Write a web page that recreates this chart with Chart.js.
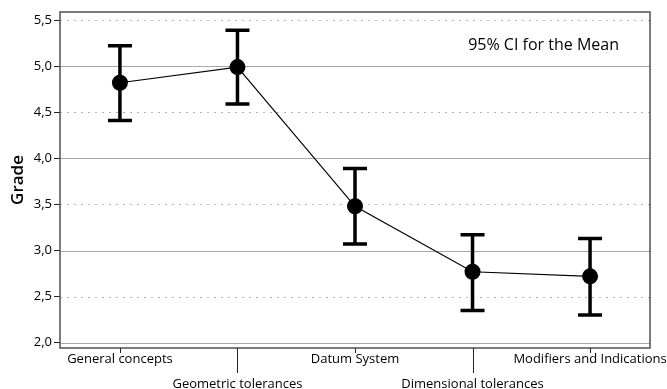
<!DOCTYPE html>
<html>
<head>
<meta charset="utf-8">
<script src="https://cdn.jsdelivr.net/npm/chart.js@4"></script>
<style>
  html, body { margin: 0; padding: 0; background: #fff; }
  #wrap { width: 667px; height: 389px; }
</style>
</head>
<body>
<div id="wrap"><canvas id="ciChart" width="667" height="389"></canvas></div>
<script>
const categories = ["General concepts", "Geometric tolerances", "Datum System", "Dimensional tolerances", "Modifiers and Indications"];
const means = [4.82, 4.99, 3.48, 2.77, 2.72];
const upper = [5.22, 5.39, 3.89, 3.17, 3.13];
const lower = [4.41, 4.59, 3.07, 2.35, 2.30];
const yTicks = [2.0, 2.5, 3.0, 3.5, 4.0, 4.5, 5.0, 5.5];

const FONT = "'Open Sans', 'Noto Sans', sans-serif";

// grid lines, frame, error bars and staggered x ticks
const ciPlugin = {
  id: "ciPlugin",
  beforeDatasetsDraw(chart) {
    const { ctx, chartArea: a, scales } = chart;
    const y = scales.y;
    ctx.save();
    yTicks.forEach(v => {
      const py = Math.round(y.getPixelForValue(v)) + 0.5;
      ctx.beginPath();
      ctx.lineWidth = 1;
      if (Number.isInteger(v)) {
        ctx.setLineDash([]);
        ctx.strokeStyle = "#a8a8a8";
      } else {
        ctx.setLineDash([2, 5]);
        ctx.strokeStyle = "#b4b4b4";
      }
      ctx.moveTo(a.left, py);
      ctx.lineTo(a.right, py);
      ctx.stroke();
    });
    ctx.setLineDash([]);

    // error bars
    const x = scales.x;
    ctx.strokeStyle = "#000";
    ctx.lineWidth = 3.5;
    means.forEach((m, i) => {
      const px = x.getPixelForValue(i);
      const pu = y.getPixelForValue(upper[i]);
      const pl = y.getPixelForValue(lower[i]);
      ctx.beginPath();
      ctx.moveTo(px, pu);
      ctx.lineTo(px, pl);
      ctx.moveTo(px - 12, pu);
      ctx.lineTo(px + 12, pu);
      ctx.moveTo(px - 12, pl);
      ctx.lineTo(px + 12, pl);
      ctx.stroke();
    });
    ctx.restore();
  },
  afterDraw(chart) {
    const { ctx, chartArea: a, scales } = chart;
    const x = scales.x;
    ctx.save();
    // frame
    ctx.strokeStyle = "#505050";
    ctx.lineWidth = 1.5;
    ctx.strokeRect(a.left, a.top, a.right - a.left, a.bottom - a.top);
    // staggered tick marks
    ctx.strokeStyle = "#222";
    ctx.lineWidth = 1;
    categories.forEach((c, i) => {
      const px = Math.round(x.getPixelForValue(i)) + 0.5;
      ctx.beginPath();
      ctx.moveTo(px, a.bottom);
      ctx.lineTo(px, a.bottom + (i % 2 ? 25 : 5));
      ctx.stroke();
    });
    // annotation
    ctx.fillStyle = "#000";
    ctx.font = "16px " + FONT;
    ctx.textAlign = "right";
    ctx.textBaseline = "middle";
    ctx.fillText("95% CI for the Mean", a.right - 31, a.top + 33);
    ctx.restore();
  }
};

const ctx = document.getElementById("ciChart").getContext("2d");

new Chart(ctx, {
  type: "line",
  data: {
    datasets: [{
      data: means.map((m, i) => ({ x: i, y: m })),
      borderColor: "#000",
      borderWidth: 1.2,
      backgroundColor: "#000",
      pointRadius: 8,
      pointHoverRadius: 8,
      pointBackgroundColor: "#000",
      pointBorderWidth: 0,
      tension: 0
    }]
  },
  options: {
    responsive: false,
    animation: false,
    layout: { padding: { top: 12, right: 17, left: 0, bottom: 0 } },
    plugins: {
      legend: { display: false },
      tooltip: { enabled: false }
    },
    scales: {
      x: {
        type: "linear",
        min: -0.51,
        max: 4.51,
        grid: { display: false },
        border: { display: false },
        afterBuildTicks: s => { s.ticks = categories.map((c, i) => ({ value: i })); },
        afterFit: s => { s.height = 41; },
        ticks: {
          autoSkip: false,
          maxRotation: 0,
          padding: -9,
          color: "#000",
          font: { family: FONT, size: 13, lineHeight: 1.9 },
          callback: v => (v % 2 ? ["", categories[v]] : categories[v])
        }
      },
      y: {
        min: 1.943,
        max: 5.587,
        grid: { display: true, drawOnChartArea: false, tickLength: 6, color: "#222" },
        border: { display: false },
        afterBuildTicks: s => { s.ticks = yTicks.map(v => ({ value: v })); },
        afterFit: s => { s.width = 60; },
        title: {
          display: true,
          text: "Grade",
          color: "#000",
          font: { family: FONT, size: 17, weight: "600" },
          padding: { top: 8, bottom: 0 }
        },
        ticks: {
          color: "#000",
          padding: 2,
          font: { family: FONT, size: 13 },
          callback: v => v.toFixed(1).replace(".", ",")
        }
      }
    }
  },
  plugins: [ciPlugin]
});
</script>
</body>
</html>
